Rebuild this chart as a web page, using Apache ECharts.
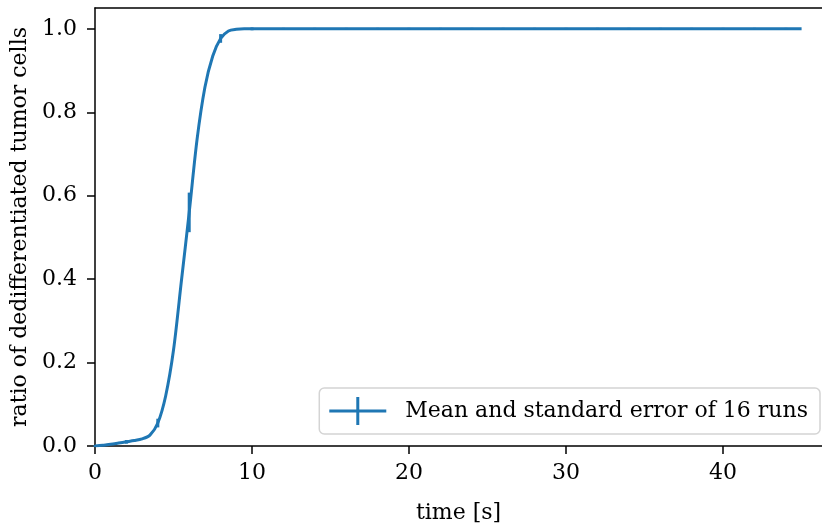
<!DOCTYPE html>
<html><head><meta charset="utf-8">
<script src="https://cdn.jsdelivr.net/npm/echarts@6/dist/echarts.min.js"></script>
<style>html,body{margin:0;padding:0;background:#fff}#c{width:822px;height:529px}</style>
</head><body><div id="c"></div>
<script>
const times = [0,0.5,1,1.5,2,2.5,3,3.5,4,4.5,5,5.5,6,6.5,7,7.5,8,8.5,9,9.5,10,11,12,13,14,15,16,17,18,19,20,21,22,23,24,25,26,27,28,29,30,31,32,33,34,35,36,37,38,39,40,41,42,43,44,45];
const meanRatio = [0.000,0.002,0.004,0.007,0.010,0.013,0.017,0.026,0.055,0.120,0.230,0.395,0.560,0.735,0.860,0.935,0.977,0.995,0.999,1.000,1.000,1,1,1,1,1,1,1,1,1,1,1,1,1,1,1,1,1,1,1,1,1,1,1,1,1,1,1,1,1,1,1,1,1,1,1];
const errTimes = [0,2,4,6,8,10,12,14,16,18,20,22,24,26,28,30,32,34,36,38,40,42,44];
const errMean = [0.000,0.010,0.055,0.560,0.977,1,1,1,1,1,1,1,1,1,1,1,1,1,1,1,1,1,1];
const errSem = [0.000,0.002,0.008,0.045,0.008,0.001,0,0,0,0,0,0,0,0,0,0,0,0,0,0,0,0,0];
const legendLabel = 'Mean and standard error of 16 runs';
const xLabel = 'time [s]';
const yLabel = 'ratio of dedifferentiated tumor cells';

const color = '#1f77b4';
const font = 'DejaVu Serif';
const fs = 22;
const xMax = 46.3;
const chart = echarts.init(document.getElementById('c'), null, {renderer:'canvas'});
const lineData = times.map((t,i)=>[t, meanRatio[i]]);
const errData = errTimes.map((t,i)=>[t, errMean[i]-errSem[i], errMean[i]+errSem[i]]);
chart.setOption({
  animation:false,
  grid:{left:95,right:0,top:8,bottom:82,show:false},
  xAxis:[{type:'value',min:0,max:xMax,interval:10,
    name:xLabel,nameLocation:'middle',nameGap:56,
    nameTextStyle:{fontFamily:font,fontSize:fs,color:'#000'},
    axisLine:{show:true,lineStyle:{color:'#000',width:1.5}},
    axisTick:{show:true,length:8,lineStyle:{color:'#000',width:1.5}},
    axisLabel:{showMaxLabel:false,fontFamily:font,fontSize:fs,color:'#000',margin:16},
    splitLine:{show:false}},
   {type:'value',position:'top',min:0,max:xMax,interval:10,
    axisLine:{show:true,onZero:false,lineStyle:{color:'#000',width:1.5}},
    axisTick:{show:false},axisLabel:{show:false},splitLine:{show:false}}],
  yAxis:{type:'value',min:0,max:1.05,interval:0.2,
    name:yLabel,nameLocation:'middle',nameGap:60,nameRotate:90,
    nameTextStyle:{fontFamily:font,fontSize:fs,color:'#000'},
    axisLine:{show:true,lineStyle:{color:'#000',width:1.5}},
    axisTick:{show:true,length:8,lineStyle:{color:'#000',width:1.5}},
    axisLabel:{showMaxLabel:false,fontFamily:font,fontSize:fs,color:'#000',margin:18,formatter:v=>v.toFixed(1)},
    splitLine:{show:false}},
  legend:{right:2,bottom:95,orient:'horizontal',
    backgroundColor:'#fff',borderColor:'#d4d4d4',borderWidth:1.5,borderRadius:5,padding:[9,12,9,10],
    itemWidth:57,itemHeight:28,itemGap:10,
    textStyle:{fontFamily:font,fontSize:fs,color:'#000',padding:[0,0,0,14]},
    data:[{name:legendLabel,icon:'path://M0,12.5 L57,12.5 L57,15.5 L0,15.5 Z M27,0 L30,0 L30,28 L27,28 Z'}]},
  series:[
    {name:legendLabel,type:'line',xAxisIndex:0,data:lineData,showSymbol:false,symbol:'none',smooth:0.3,
     lineStyle:{color:color,width:3},itemStyle:{color:color},z:3},
    {name:legendLabel,type:'custom',xAxisIndex:0,data:errData,z:4,
     renderItem:(params,api)=>{
       const lo=api.coord([api.value(0),api.value(1)]);
       const hi=api.coord([api.value(0),api.value(2)]);
       return {type:'line',shape:{x1:lo[0],y1:lo[1]+1,x2:hi[0],y2:hi[1]-1},style:{stroke:color,lineWidth:3}};
     },
     encode:{x:0,y:[1,2]}, itemStyle:{color:color}}
  ]
});
</script></body></html>
